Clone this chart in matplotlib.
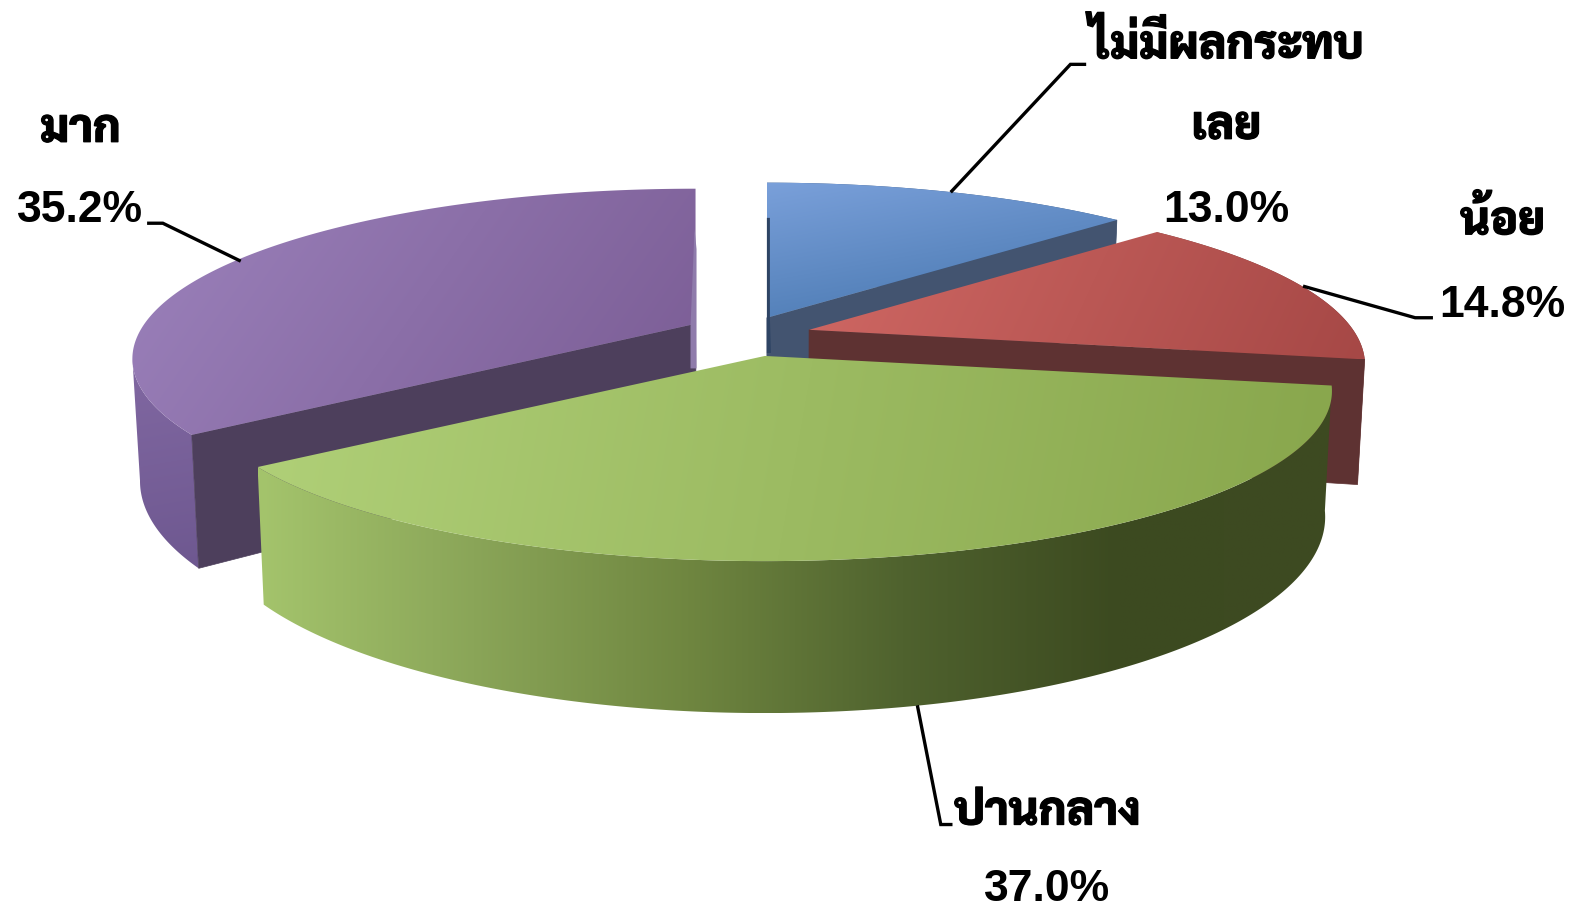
import numpy as np
import matplotlib
matplotlib.use("Agg")
import matplotlib.pyplot as plt
from matplotlib.patches import Polygon
from matplotlib.colors import to_rgb
import matplotlib.patheffects as pe

# ---- data ----
categories = ["ไม่มีผลกระทบ", "น้อย", "ปานกลาง", "มาก"]
shares = [13.0, 14.8, 37.0, 35.2]
share_labels = ["13.0%", "14.8%", "37.0%", "35.2%"]

# ---- 3D pie model (style) ----
W, H_PX = 1568, 906
Rx, Ry, PERSP, DEPTH, CONV, VX = 545, 162, 0.206, 120, 0.988, 763
apexes = [(763, 316), (805, 328), (761, 354), (692, 322)]
rx_scale = [1.0, 0.993, 1.013, 1.006]
depth_scale = [1.0, 1.0, 1.0, 0.97]
paint_order = [0, 1, 3, 2]
radial_wall_edge = [-1, -1, None, 0]
top_grad = [(["#7AA0DA", "#4474AC"], 80), (["#D06864", "#A64846"], 25),
            (["#B0D078", "#88A64C"], 10), (["#9C82BC", "#7A5C94"], 35)]
wall_col = ["#435470", "#5E3232", "#5A6C34", "#4D3F5C"]
outer_grad = [(["#3C5A84", "#3C5A84"], 0), (["#7A3A38", "#7A3A38"], 0),
              (["#A4C46C", "#8AA558", "#6F8640", "#4F622E", "#3C4A20", "#3E4A22"], 0),
              (["#8168A2", "#6E5890"], 80)]


def rim(A, t, sx):
    X, Y = np.sin(t), np.cos(t)
    w = 1 + PERSP * Y
    return A[0] + Rx * sx * X / w, A[1] - Ry * Y / w, w


def base(x, y, w, d=1.0):
    return VX + (x - VX) * CONV, y + DEPTH * d / w


def grad_fill(ax, pts, stops, angle, z):
    pts = np.asarray(pts)
    x0, y0 = pts.min(axis=0)
    x1, y1 = pts.max(axis=0)
    n = 220
    xs, ys = np.meshgrid(np.linspace(0, 1, n), np.linspace(0, 1, n))
    a = np.deg2rad(angle)
    dx, dy = np.cos(a) * (x1 - x0), np.sin(a) * (y1 - y0)
    f = xs * dx + ys * dy
    f = (f - f.min()) / max(f.max() - f.min(), 1e-9)
    cols = np.array([to_rgb(c) for c in stops])
    pos = np.linspace(0, 1, len(stops))
    img = np.dstack([np.interp(f, pos, cols[:, i]) for i in range(3)])
    im = ax.imshow(img, extent=(x0, x1, y1, y0), origin="upper", aspect="auto",
                   interpolation="bilinear", zorder=z)
    patch = Polygon(pts, closed=True, transform=ax.transData, fc="none", ec="none")
    ax.add_patch(patch)
    im.set_clip_path(patch)


fig = plt.figure(figsize=(15.76, 9.11), dpi=100)
ax = fig.add_axes([0, 0, 1, 1])

edges = 2 * np.pi * np.cumsum([0] + shares) / sum(shares)
z = 1
for i in paint_order:
    A = apexes[i]
    t = np.linspace(edges[i], edges[i + 1], 300)
    tx, ty, tw = rim(A, t, rx_scale[i])
    bx, by = base(tx, ty, tw, depth_scale[i])
    ab = base(A[0], A[1], 1.0, depth_scale[i])
    # outer wall: up to the silhouette when the arc passes the far left
    it, ib = (int(np.argmin(tx)), int(np.argmin(bx))) if i == 3 else (len(t) - 1, len(t) - 1)
    outer = np.r_[np.c_[tx[:it + 1], ty[:it + 1]], np.c_[bx[:ib + 1], by[:ib + 1]][::-1]]
    grad_fill(ax, outer, outer_grad[i][0], outer_grad[i][1], z); z += 1
    # visible radial wall
    k = radial_wall_edge[i]
    if k is not None:
        wall = [A, (tx[k], ty[k]), (bx[k], by[k]), ab]
        ax.add_patch(Polygon(wall, closed=True, fc=wall_col[i], ec=wall_col[i], lw=0.5, zorder=z))
    z += 1
    # thin sliver of the back radial wall
    if i == 0:
        ax.add_patch(Polygon([(A[0], ty[0] + 35), (A[0] + 3, ty[0] + 35), (A[0] + 3, A[1]),
                              (A[0] + 4, ab[1] - 85), (A[0], ab[1] - 85)],
                             closed=True, fc="#2E4464", ec="none", zorder=z + 2))
    if i == 3:
        ax.add_patch(Polygon([(A[0] - 5, A[1] + 3), (tx[-1] - 1, ty[-1] + 40), (tx[-1] + 1, ty[-1] + 60),
                              (tx[-1] + 1, ab[1] - 72), (A[0] - 5, ab[1] - 72)],
                             closed=True, fc="#8F7BAB", ec="none", zorder=z + 2))
    # top surface
    top = np.r_[[A], np.c_[tx, ty]]
    grad_fill(ax, top, top_grad[i][0], top_grad[i][1], z); z += 4

ax.set_xlim(0, W)
ax.set_ylim(H_PX, 0)
ax.axis("off")

# ---- leaders ----
leaders = [[(947, 190), (1065, 64), (1079, 64)],
           [(1298, 285), (1408, 316), (1424, 316)],
           [(913, 703), (936, 820), (946, 820)],
           [(238, 259), (162, 222), (148, 222)]]
for pts in leaders:
    p = np.array(pts)
    ax.plot(p[:, 0], p[:, 1], color="black", lw=2.4, solid_joinstyle="miter", zorder=100)

# ---- labels ----
THAI = ["Sarabun", "DejaVu Sans"]
NUM = ["Liberation Sans", "DejaVu Sans"]
heavy = [pe.withStroke(linewidth=0.9, foreground="black")]
name_pos = [(1220, 58), (1495, 233), (1042, 820), (80, 141)]
pct_pos = [(1220, 221), (1495, 315), (1042, 896), (80, 221)]
for i, c in enumerate(categories):
    lines = [c]
    if c == "ไม่มีผลกระทบ":
        lines = ["ไม่มีผลกระทบ", "เลย"]
    x, y = name_pos[i]
    ax.text(x, y, lines[0], family=THAI, weight=800, fontsize=33, ha="center", va="baseline",
            zorder=101, path_effects=heavy)
    if len(lines) > 1:
        ax.text(x, 138, lines[1], family=THAI, weight=800, fontsize=33, ha="center", va="baseline",
                zorder=101, path_effects=heavy)
    x, y = pct_pos[i]
    ax.text(x, y, share_labels[i], family=NUM, weight="bold", fontsize=32, ha="center", va="baseline", zorder=101)

fig.savefig("out.png", dpi=100, facecolor="white")
